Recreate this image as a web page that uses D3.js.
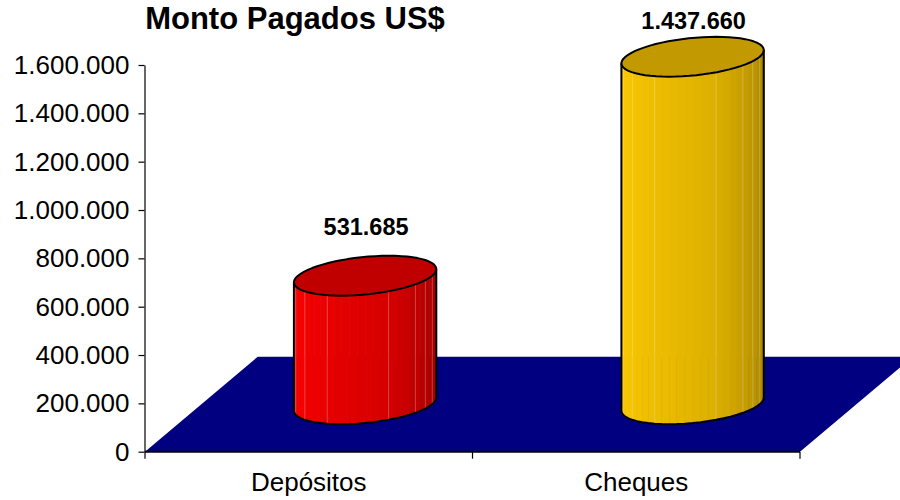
<!DOCTYPE html>
<html>
<head>
<meta charset="utf-8">
<script src="https://cdn.jsdelivr.net/npm/d3@7"></script>
<style>
  body { margin: 0; background: #fff; }
  text { font-family: Arial, "Liberation Sans", sans-serif; }
</style>
</head>
<body>
<div id="chart"></div>
<script>
var categories = ["Depósitos", "Cheques"];
var values = [531685, 1437660];
var valueLabels = ["531.685", "1.437.660"];
var yTicks = [0, 200000, 400000, 600000, 800000, 1000000, 1200000, 1400000, 1600000];
var yTickLabels = ["0", "200.000", "400.000", "600.000", "800.000", "1.000.000", "1.200.000", "1.400.000", "1.600.000"];

var width = 900, height = 500;

// colours: left side, middle, right side; then top
var sideColors = [["#ff0000", "#d60000", "#9c0000"], ["#ffcc00", "#ddb000", "#a38000"]];
var topColors = ["#c00000", "#c29a00"];

var depth = { x: 112.7, y: -95 };

var svg = d3.select("#chart").append("svg")
  .attr("width", width)
  .attr("height", height);

var x = d3.scaleBand()
  .domain(categories)
  .range([145, 800])
  .paddingInner(0)
  .paddingOuter(0);

var y = d3.scaleLinear()
  .domain([0, 1600000])
  .range([451.7, 65]);

// floor
var y0 = y(0);
svg.append("polygon")
  .attr("points", [
    [145, y0], [800, y0], [800 + depth.x, y0 + depth.y], [145 + depth.x, y0 + depth.y]
  ].map(function(p) { return p.join(","); }).join(" "))
  .attr("fill", "#000080");

// value axis
var yAxis = d3.axisLeft(y)
  .tickValues(yTicks)
  .tickFormat(function(d, i) { return yTickLabels[i]; })
  .tickSize(6)
  .tickPadding(9)
  .tickSizeOuter(0);

var yg = svg.append("g")
  .attr("transform", "translate(144.5,0)")
  .call(yAxis);
yg.select(".domain").attr("stroke", "#000").attr("stroke-width", 1.2);
yg.selectAll(".tick line").attr("stroke", "#000").attr("stroke-width", 1.2);
yg.selectAll(".tick text")
  .attr("fill", "#000")
  .style("font-size", "26px");

// category axis
var xg = svg.append("g")
  .attr("transform", "translate(0," + y0 + ")");
xg.append("line")
  .attr("x1", 145).attr("x2", 800)
  .attr("y1", 0).attr("y2", 0)
  .attr("stroke", "#000").attr("stroke-width", 2);
xg.selectAll(".xtick")
  .data([145, x("Cheques"), 800])
  .enter().append("line")
  .attr("x1", function(d) { return d; })
  .attr("x2", function(d) { return d; })
  .attr("y1", 0).attr("y2", 7)
  .attr("stroke", "#000").attr("stroke-width", 1.2);
xg.selectAll(".xlabel")
  .data(categories)
  .enter().append("text")
  .attr("x", function(d) { return x(d) + x.bandwidth() / 2; })
  .attr("y", 39.5)
  .attr("text-anchor", "middle")
  .style("font-size", "26px")
  .text(function(d) { return d; });

// cylinders
var rx = x.bandwidth() * 0.205;
var vx = depth.x * 0.21, vy = depth.y * 0.21;
var thetaR = Math.atan2(vx, rx);
var N = 28;

function pt(cx, cy, t) {
  return [cx + rx * Math.cos(t) + vx * Math.sin(t), cy + vy * Math.sin(t)];
}

categories.forEach(function(c, i) {
  var cx = x(c) + x.bandwidth() / 2 + depth.x * 0.5;
  var cyB = y0 + depth.y * 0.5;
  var cyT = y(values[i]) + depth.y * 0.5;
  var g = svg.append("g");

  var col = d3.scaleLinear()
    .domain([0, 0.6, 1])
    .range(sideColors[i])
    .interpolate(d3.interpolateRgb);

  var angles = d3.range(N + 1).map(function(k) { return thetaR - Math.PI + Math.PI * k / N; });

  for (var k = 0; k < N; k++) {
    var a0 = angles[k], a1 = angles[k + 1];
    var p0 = pt(cx, cyB, a0), p1 = pt(cx, cyB, a1);
    var q1 = pt(cx, cyT, a1), q0 = pt(cx, cyT, a0);
    var fc = col((k + 0.5) / N);
    g.append("polygon")
      .attr("points", [p0, p1, q1, q0].map(function(p) { return p.join(","); }).join(" "))
      .attr("fill", fc)
      .attr("stroke", fc)
      .attr("stroke-width", 0.8);
  }
  // faint facet lines
  [2, 5, 9, 17, 21, 23, 25].forEach(function(k) {
    var p = pt(cx, cyB, angles[k]), q = pt(cx, cyT, angles[k]);
    g.append("line")
      .attr("x1", p[0]).attr("y1", p[1])
      .attr("x2", q[0]).attr("y2", q[1])
      .attr("stroke", "#ffffff")
      .attr("stroke-opacity", 0.25)
      .attr("stroke-width", 1);
  });

  // outline of the side
  var outline = [];
  angles.forEach(function(a) { outline.push(pt(cx, cyB, a)); });
  outline.push(pt(cx, cyT, angles[N]));
  g.append("path")
    .attr("d", d3.line()(outline) + "M" + pt(cx, cyB, angles[0]).join(",") + "L" + pt(cx, cyT, angles[0]).join(","))
    .attr("fill", "none")
    .attr("stroke", "#000")
    .attr("stroke-width", 2)
    .attr("stroke-linejoin", "round");

  // top ellipse
  var top = d3.range(64).map(function(k) { return pt(cx, cyT, 2 * Math.PI * k / 64); });
  g.append("path")
    .attr("d", d3.line()(top) + "Z")
    .attr("fill", topColors[i])
    .attr("stroke", "#000")
    .attr("stroke-width", 2)
    .attr("stroke-linejoin", "round");

  // value label
  var ty = Math.max(cyT + vy - 21, 28.5);
  svg.append("text")
    .attr("x", cx + 1)
    .attr("y", ty)
    .attr("text-anchor", "middle")
    .style("font-size", "23.5px")
    .style("font-weight", "bold")
    .text(valueLabels[i]);
});

// title
svg.append("text")
  .attr("x", 295)
  .attr("y", 29)
  .attr("text-anchor", "middle")
  .style("font-size", "31px")
  .style("font-weight", "bold")
  .text("Monto Pagados US$");
</script>
</body>
</html>
